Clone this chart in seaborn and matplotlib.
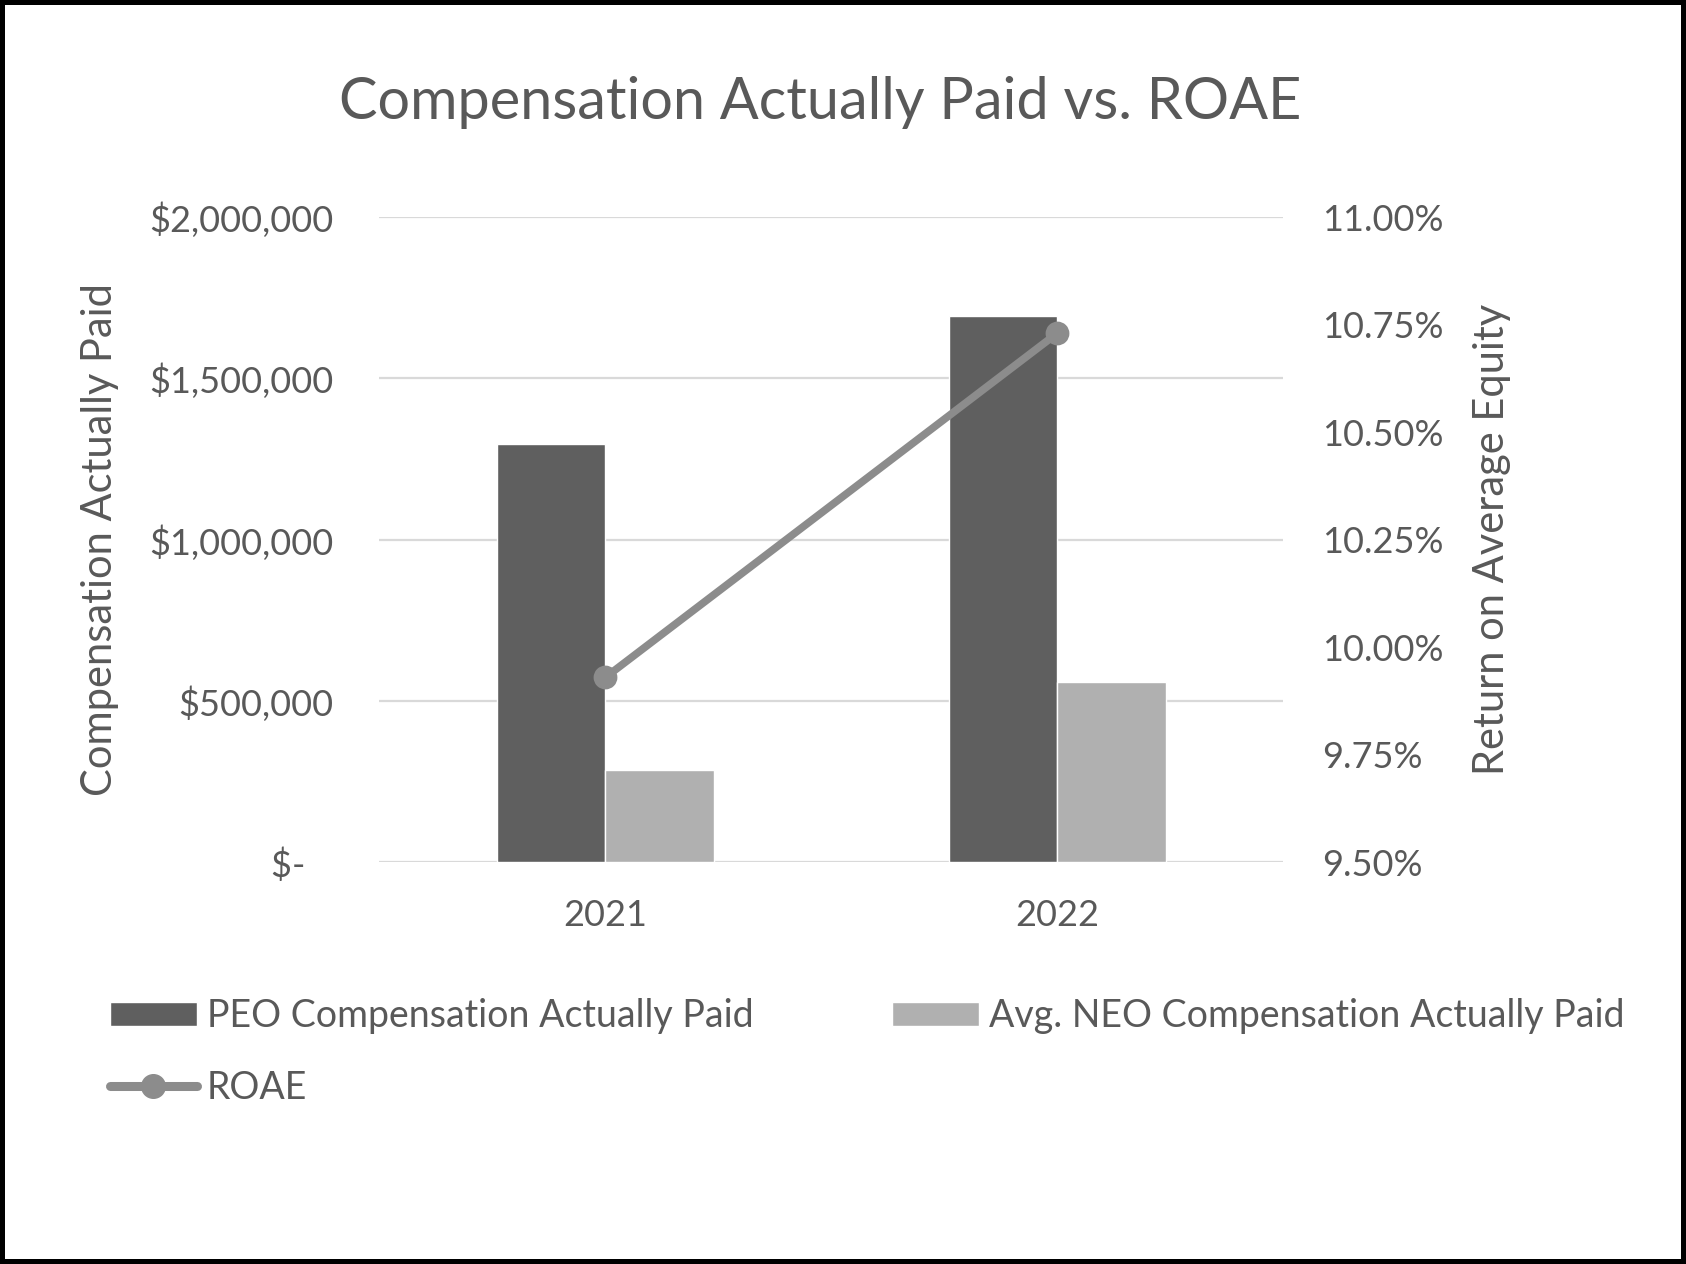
import matplotlib
matplotlib.use("Agg")
import matplotlib.pyplot as plt
from matplotlib.patches import Patch
from matplotlib.lines import Line2D
import numpy as np
import pandas as pd
import seaborn as sns

# chart values
years = ["2021", "2022"]
peo_cap = [1296000, 1694000]
neo_cap = [287000, 559000]
roae = [9.93, 10.73]

left_ticks = [0, 500000, 1000000, 1500000, 2000000]
left_labels = ["$-   ", "$500,000", "$1,000,000", "$1,500,000", "$2,000,000"]
right_ticks = [9.50, 9.75, 10.00, 10.25, 10.50, 10.75, 11.00]

series_names = ["PEO Compensation Actually Paid", "Avg. NEO Compensation Actually Paid"]
bar_colors = ["#5f5f5f", "#b0b0b0"]
line_color = "#8c8c8c"
text_color = "#595959"

sns.set_style("white")
plt.rcParams["font.family"] = ["Lato", "DejaVu Sans"]

df = pd.DataFrame({
    "year": years * 2,
    "value": peo_cap + neo_cap,
    "series": [series_names[0]] * 2 + [series_names[1]] * 2,
})

fig = plt.figure(figsize=(16.86, 12.64), dpi=100)
ax = fig.add_axes([0.225, 0.3177, 0.536, 0.5105])

sns.barplot(data=df, x="year", y="value", hue="series", hue_order=series_names,
            palette=bar_colors, width=0.48, saturation=1, ax=ax, legend=False)
ax.set_xlim(-0.5, 1.5)
ax.set_ylim(0, 2000000)
ax.set_yticks(left_ticks)
ax.set_yticklabels(left_labels)
ax.yaxis.grid(True, color="#d9d9d9", linewidth=1.6)
ax.set_axisbelow(True)
for s in ax.spines.values():
    s.set_visible(False)
ax.tick_params(axis="both", length=0, colors=text_color, labelsize=26)
ax.tick_params(axis="y", pad=33)
ax.tick_params(axis="x", pad=26)
ax.set_xlabel("")
ax.set_ylabel("Compensation Actually Paid", color=text_color, fontsize=30, labelpad=22)

ax2 = ax.twinx()
sns.pointplot(x=years, y=roae, ax=ax2, color=line_color, markers="o",
              linestyles="-", markersize=13, linewidth=5.5)
ax2.set_xlim(-0.5, 1.5)
ax2.set_ylim(9.5, 11.0)
ax2.set_yticks(right_ticks)
ax2.set_yticklabels([f"{v:.2f}%" for v in right_ticks])
for s in ax2.spines.values():
    s.set_visible(False)
ax2.tick_params(axis="y", length=0, colors=text_color, labelsize=26, pad=28)
ax2.set_ylabel("Return on Average Equity", color=text_color, fontsize=30, labelpad=21)
ax2.grid(False)

fig.text(0.4865, 0.919, "Compensation Actually Paid vs. ROAE", ha="center", va="center",
         fontsize=41.5, color=text_color)

handles = [
    Patch(facecolor=bar_colors[0], label=series_names[0]),
    Line2D([0], [0], color=line_color, linewidth=6.5, marker="o", markersize=17, label="ROAE"),
    Patch(facecolor=bar_colors[1], label=series_names[1]),
]
leg = fig.legend(handles=handles, ncol=2, loc="upper left", bbox_to_anchor=(0.045, 0.237),
                 frameon=False, fontsize=27, handlelength=2.32, handleheight=0.6,
                 handletextpad=0.27, columnspacing=3.7, labelspacing=0.95)
for t in leg.get_texts():
    t.set_color(text_color)

fig.patch.set_edgecolor("black")
fig.patch.set_linewidth(6)

fig.savefig("out.png", dpi=100, edgecolor=fig.get_edgecolor())
